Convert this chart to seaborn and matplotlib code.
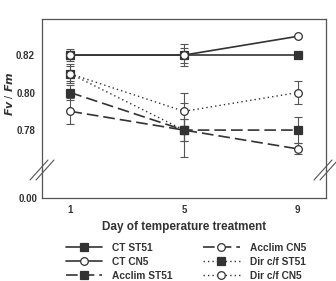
import numpy as np
import pandas as pd
import matplotlib
matplotlib.use("Agg")
import matplotlib.pyplot as plt
import seaborn as sns
from matplotlib.lines import Line2D

sns.set_theme(style="white")
plt.rcParams['font.family'] = ['Liberation Sans', 'DejaVu Sans']

days = [1, 5, 9]
series = ["CT ST51", "CT CN5", "Acclim ST51", "Acclim CN5", "Dir c/f ST51", "Dir c/f CN5"]
ct_st51 = [0.820, 0.820, 0.820]
ct_cn5 = [0.820, 0.820, 0.830]
acclim_st51 = [0.800, 0.780, 0.780]
acclim_cn5 = [0.790, 0.780, 0.770]
dir_st51 = [0.810, 0.780, np.nan]
dir_cn5 = [0.810, 0.790, 0.800]
ct_st51_err = [0.002, 0.004, 0.0015]
ct_cn5_err = [0.003, 0.006, 0.0]
acclim_st51_err = [0.004, 0.006, 0.007]
acclim_cn5_err = [0.007, 0.006, 0.003]
dir_st51_err = [0.005, 0.0145, np.nan]
dir_cn5_err = [0.004, 0.010, 0.006]

values = [ct_st51, ct_cn5, acclim_st51, acclim_cn5, dir_st51, dir_cn5]
errors = [ct_st51_err, ct_cn5_err, acclim_st51_err, acclim_cn5_err, dir_st51_err, dir_cn5_err]

rows = []
for name, v, e in zip(series, values, errors):
    for d, vv, ee in zip(days, v, e):
        rows.append({"day": d, "fvfm": vv, "err": ee, "series": name})
df = pd.DataFrame(rows)

dark = "#333333"
styles = {
    "CT ST51": ("-", "s", dark, 1.2),
    "CT CN5": ("-", "o", "white", 1.2),
    "Acclim ST51": ((0, (7, 3)), "s", dark, 1.2),
    "Acclim CN5": ((0, (7, 3)), "o", "white", 1.2),
    "Dir c/f ST51": ((0, (1, 2.2)), "s", dark, 1.0),
    "Dir c/f CN5": ((0, (1, 2.2)), "o", "white", 1.0),
}

fig = plt.figure(figsize=(3.36, 2.81), dpi=100)
ax = fig.add_axes([0.125, 0.395, 0.845, 0.537])
axb = fig.add_axes([0.125, 0.295, 0.845, 0.100], sharex=ax)

order = ["Acclim CN5", "Acclim ST51", "Dir c/f ST51", "Dir c/f CN5", "CT ST51", "CT CN5"]
for name in order:
    ls, mk, fc, lw = styles[name]
    sub = df[df.series == name].dropna()
    ax.errorbar(sub.day, sub.fvfm, yerr=sub.err, fmt="none", ecolor="#555555",
                elinewidth=0.8, capsize=3, capthick=0.8, zorder=2)
    sns.lineplot(data=sub, x="day", y="fvfm", ax=ax, color=dark, linestyle=ls,
                 linewidth=lw, marker=mk, markersize=5.5, markerfacecolor=fc,
                 markeredgecolor=dark, markeredgewidth=0.9, zorder=3, legend=False)

ax.set_xlim(0, 10)
ax.set_ylim(0.7587, 0.8392)
ax.set_yticks([0.78, 0.80, 0.82])
ax.set_yticklabels(["0.78", "0.80", "0.82"])
ax.set_xlabel("")
ax.set_ylabel("")
ax.tick_params(axis="x", bottom=False, labelbottom=False)
ax.tick_params(axis="y", direction="out", length=3, width=0.8, color="#555555",
               labelsize=7, pad=2)
for lab in ax.get_yticklabels():
    lab.set_fontweight("bold")
    lab.set_color("#333333")
for s in ["top", "left", "right"]:
    ax.spines[s].set_color("#555555")
    ax.spines[s].set_linewidth(0.9)
ax.spines["bottom"].set_visible(False)

axb.set_ylim(0, 1)
axb.set_yticks([0])
axb.set_yticklabels(["0.00"])
axb.set_xticks(days)
axb.set_xticklabels([str(d) for d in days])
axb.tick_params(axis="x", direction="in", length=2.5, width=0.8, color="#555555",
                labelsize=7, pad=5)
axb.tick_params(axis="y", direction="out", length=0, labelsize=7, pad=3)
for lab in axb.get_xticklabels() + axb.get_yticklabels():
    lab.set_fontweight("bold")
    lab.set_color("#333333")
for s in ["bottom", "left", "right"]:
    axb.spines[s].set_color("#555555")
    axb.spines[s].set_linewidth(0.9)
axb.spines["top"].set_visible(False)
axb.set_facecolor("none")
axb.set_xlabel("Day of temperature treatment", fontsize=8.5, fontweight="bold",
               color="#333333", labelpad=4)

fig.text(0.027, 0.665, "$\\mathbfit{Fv}$ / $\\mathbfit{Fm}$", rotation=90,
         ha="center", va="center", fontsize=8, color="#333333")

# break marks
for xc in [42, 326]:
    for off in [-3, 3]:
        fig.add_artist(Line2D([(xc - 9 + off) / 336, (xc + 9 + off) / 336],
                              [1 - 180 / 281, 1 - 160 / 281],
                              color="#555555", lw=0.8))

handles = []
for name in series:
    ls, mk, fc, lw = styles[name]
    handles.append(Line2D([], [], color=dark, linestyle=ls, linewidth=lw, marker=mk,
                          markersize=5.5, markerfacecolor=fc, markeredgecolor=dark,
                          markeredgewidth=0.9))
leg = fig.legend(handles, series, ncol=2, loc="center", bbox_to_anchor=(0.553, 0.068),
                 frameon=False, fontsize=7.3, handlelength=3.6, columnspacing=3.0,
                 labelspacing=0.4, handletextpad=1.0)
for t in leg.get_texts():
    t.set_fontweight("bold")
    t.set_color("#333333")

fig.savefig("out.png", dpi=100)
